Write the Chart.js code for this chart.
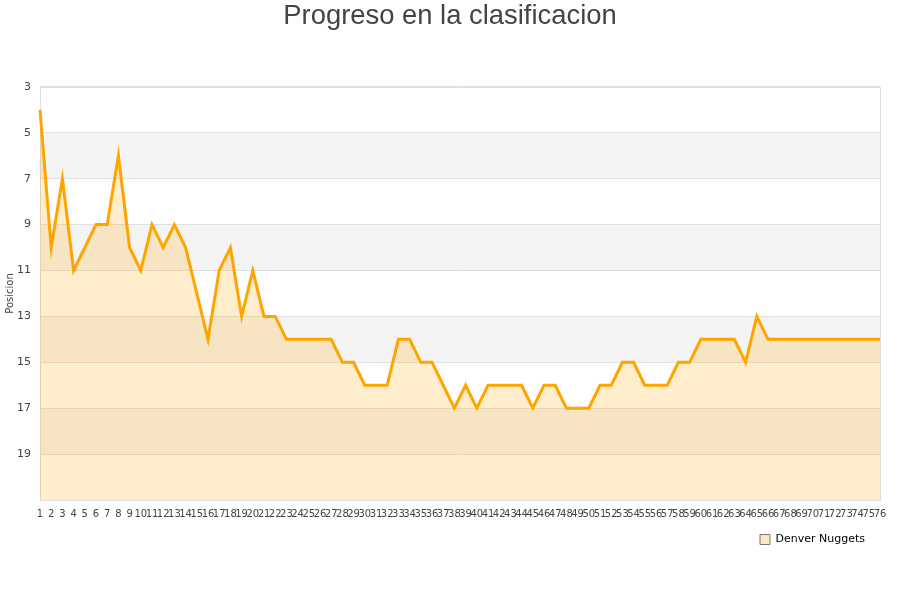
<!DOCTYPE html>
<html>
<head>
<meta charset="utf-8">
<script src="https://cdn.jsdelivr.net/npm/chart.js@4/dist/chart.umd.min.js"></script>
<style>
html,body{margin:0;padding:0;background:#fff;}
#wrap{width:900px;height:600px;}
</style>
</head>
<body>
<div id="wrap"><canvas id="c" width="900" height="600"></canvas></div>
<script>
const titleText = "Progreso en la clasificacion";
const seriesName = "Denver Nuggets";
const yAxisTitle = "Posicion";
const jornadas = Array.from({length: 76}, (_, i) => String(i + 1));
const posiciones = [
  4, 10, 7, 11, 10, 9, 9, 6, 10, 11,
  9, 10, 9, 10, 12, 14, 11, 10, 13, 11,
  13, 13, 14, 14, 14, 14, 14, 15, 15, 16,
  16, 16, 14, 14, 15, 15, 16, 17, 16, 17,
  16, 16, 16, 16, 17, 16, 16, 17, 17, 17,
  16, 16, 15, 15, 16, 16, 16, 15, 15, 14,
  14, 14, 14, 15, 13, 14, 14, 14, 14, 14,
  14, 14, 14, 14, 14, 14
];
const yTicks = [3, 5, 7, 9, 11, 13, 15, 17, 19, 21];
const shadedBands = [[5, 7], [9, 11], [13, 15], [17, 19]];

const bandPlugin = {
  id: 'bands',
  beforeDraw(chart) {
    const {ctx, chartArea: a, scales: {y}} = chart;
    ctx.save();
    ctx.fillStyle = '#f4f4f4';
    shadedBands.forEach(([lo, hi]) => {
      const p1 = y.getPixelForValue(lo), p2 = y.getPixelForValue(hi);
      ctx.fillRect(a.left, Math.min(p1, p2), a.right - a.left, Math.abs(p2 - p1));
    });
    ctx.restore();
  },
  beforeDatasetsDraw(chart) {
    const {ctx, chartArea: a} = chart;
    ctx.save();
    ctx.strokeStyle = '#dddddd';
    ctx.lineWidth = 1;
    ctx.strokeRect(Math.round(a.left) + 0.5, Math.round(a.top) + 0.5, Math.round(a.right - a.left), Math.round(a.bottom - a.top));
    ctx.restore();
  },
  afterUpdate(chart) {
    if (chart.legend) chart.legend.right -= 9;
    if (chart.titleBlock) { chart.titleBlock.left = 0; chart.titleBlock.right = chart.width; }
  }
};

new Chart(document.getElementById('c'), {
  type: 'line',
  data: {
    labels: jornadas,
    datasets: [{
      label: seriesName,
      data: posiciones,
      borderColor: '#FFA500',
      backgroundColor: 'rgba(255,165,0,0.2)',
      borderWidth: 3,
      pointRadius: 0,
      tension: 0,
      fill: 'start'
    }]
  },
  plugins: [bandPlugin],
  options: {
    responsive: false,
    animation: false,
    layout: {padding: {left: 4, right: 20, top: 0, bottom: 45}},
    plugins: {
      title: {
        display: true,
        text: titleText,
        color: '#444',
        font: {family: 'Liberation Sans, Arial, sans-serif', size: 27.4, weight: 'normal'},
        padding: {top: 0, bottom: 54}
      },
      legend: {
        position: 'bottom',
        align: 'end',
        labels: {
          boxWidth: 10,
          boxHeight: 10,
          padding: 6,
          color: '#222',
          font: {family: 'DejaVu Sans', size: 11},
          generateLabels(chart) {
            const ds = chart.data.datasets[0];
            return [{text: ds.label, fillStyle: 'rgba(255,165,0,0.25)', strokeStyle: '#777', lineWidth: 1, datasetIndex: 0}];
          }
        }
      },
      tooltip: {enabled: false}
    },
    scales: {
      x: {
        grid: {display: false, drawTicks: false},
        border: {display: true, color: '#dddddd'},
        ticks: {
          autoSkip: false,
          maxRotation: 0,
          minRotation: 0,
          padding: 8,
          color: '#444',
          font: {family: 'DejaVu Sans', size: 10}
        }
      },
      y: {
        reverse: true,
        min: 3,
        max: 21,
        afterBuildTicks(scale) { scale.ticks = yTicks.map(v => ({value: v})); },
        afterFit(scale) { scale.width = 36; },
        grid: {color: '#e0e0e0', drawTicks: false},
        border: {display: true, color: '#dddddd'},
        title: {display: true, text: yAxisTitle, color: '#444', font: {family: 'DejaVu Sans', size: 10}, padding: {top: 0, bottom: 4}},
        ticks: {
          padding: 9,
          color: '#444',
          font: {family: 'DejaVu Sans', size: 11},
          callback: (v) => (v === 21 ? '' : String(v))
        }
      }
    }
  }
});
</script>
</body>
</html>
